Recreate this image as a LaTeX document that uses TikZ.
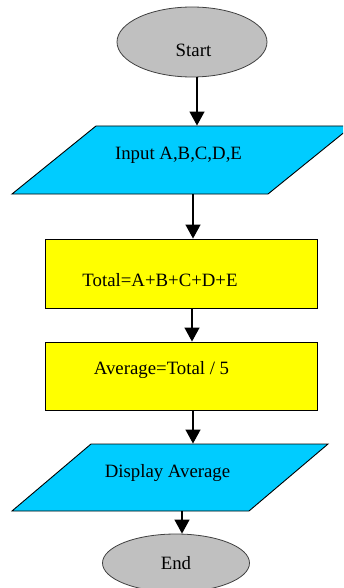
\documentclass[tikz,border=0pt]{standalone}
\usepackage{fontspec}
\setmainfont{Liberation Serif}
\usepackage{xcolor}
\usepackage{tikz}
\usetikzlibrary{arrows.meta, shapes.geometric}

\definecolor{termgray}{RGB}{192,192,192}
\definecolor{iocyan}{RGB}{0,204,255}
\definecolor{procyellow}{RGB}{255,255,0}

\begin{document}
\begin{tikzpicture}[
    x=1pt, y=-1pt,
    terminal/.style={ellipse, draw=black!75, line width=0.8pt, fill=termgray, minimum width=150pt, minimum height=70pt, inner sep=0pt},
    iobox/.style={trapezium, trapezium stretches body=true, draw=black, line width=0.9pt, fill=iocyan, inner xsep=2pt, inner ysep=0pt},
    procbox/.style={rectangle, draw=black, line width=0.9pt, fill=procyellow, minimum width=272pt, minimum height=69pt, inner sep=0pt},
    lbl/.style={font=\fontsize{18.8}{22}\selectfont, inner sep=0pt},
    arrow/.style={-{Triangle[width=15pt,length=14pt]}, line width=1.3pt}
]
\clip (0,0) rectangle (343,588);

% Start
\node[terminal] (start) at (192,42) {};
\node[lbl] (start-lbl) at ([xshift=1.5pt, yshift=-8pt]start.center) {Start};

% Input
\node[iobox, trapezium left angle=39, trapezium right angle=141, minimum width=340pt] (input) at (182,160) {\rule{0pt}{68pt}};
\node[lbl] (input-lbl) at ([xshift=-3.5pt, yshift=5pt]input.center) {Input A,B,C,D,E};

% Total
\node[procbox] (total) at (181,273.5) {};
\node[lbl] (total-lbl) at ([xshift=-21pt, yshift=-6.5pt]total.center) {Total=A+B+C+D+E};

% Average
\node[procbox, minimum height=68pt] (average) at (181,376) {};
\node[lbl] (average-lbl) at ([xshift=-19.5pt, yshift=6pt]average.center) {Average=Total / 5};

% Display
\node[iobox, trapezium left angle=40.3, trapezium right angle=139.7, minimum width=316pt] (display) at (170,477.5) {\rule{0pt}{67pt}};
\node[lbl] (display-lbl) at ([xshift=-2.5pt, yshift=4.5pt]display.center) {Display Average};

% End
\node[terminal, minimum width=147pt, minimum height=58pt] (end) at (176,563) {};
\node[lbl] (end-lbl) at (end.center) {End};

% Flow
\draw[arrow] ([xshift=5pt]start.south) -- ([xshift=5pt]start.south |- input.north);
\draw[arrow] ([xshift=11pt]input.south) -- ([xshift=11pt]input.south |- total.north);
\draw[arrow] ([xshift=11pt]total.south) -- ([xshift=11pt]total.south |- average.north);
\draw[arrow] ([xshift=12pt]average.south) -- ([xshift=12pt]average.south |- display.north);
\draw[arrow] ([xshift=12pt]display.south) -- ([xshift=12pt]display.south |- end.north);

\end{tikzpicture}
\end{document}
